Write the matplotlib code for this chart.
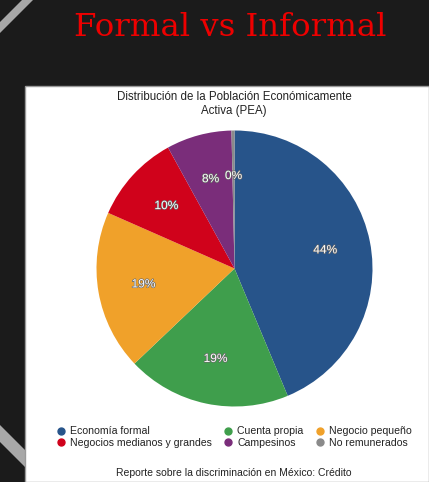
import matplotlib
matplotlib.use("Agg")
import matplotlib.pyplot as plt
import matplotlib.patheffects as pe
from matplotlib.patches import Polygon, Rectangle
from matplotlib.lines import Line2D

# data
labels = ["Economía formal", "Cuenta propia", "Negocio pequeño",
          "Negocios medianos y grandes", "Campesinos", "No remunerados"]
values = [43.7, 19.2, 18.7, 10.4, 7.65, 0.35]
colors = ["#27548a", "#3f9e4c", "#f0a12a", "#d0021b", "#7a2d7a", "#8a8a8a"]

W, H = 429, 482
fig = plt.figure(figsize=(W / 100, H / 100), dpi=100)
fig.patch.set_facecolor("#1b1b1b")

def fx(x):
    return x / W

def fy(y):
    return 1 - y / H

# grey diagonal stripes of the slide background
fig.patches.append(Polygon([(fx(22), fy(0)), (fx(33), fy(0)), (fx(0), fy(33)), (fx(0), fy(22))],
                           closed=True, transform=fig.transFigure, facecolor="#a8a8a8", zorder=0))
fig.patches.append(Polygon([(fx(0), fy(425)), (fx(0), fy(442)), (fx(28), fy(470)), (fx(28), fy(453))],
                           closed=True, transform=fig.transFigure, facecolor="#a8a8a8", zorder=0))

# white chart panel
fig.patches.append(Rectangle((fx(25), 0), 1 - fx(25), fy(86), transform=fig.transFigure,
                             facecolor="white", edgecolor="#9a9a9a", linewidth=1.0, zorder=1))

fig.text(fx(230), fy(36), "Formal vs Informal", color="#ee0000", family="DejaVu Serif",
         fontsize=23.3, ha="center", va="baseline")

fig.text(fx(234), fy(104), "Distribución de la Población Económicamente\nActiva (PEA)",
         family="Liberation Sans", fontsize=8.3, ha="center", va="center",
         color="#222222", linespacing=1.2, zorder=3)

# pie
cx, cy, r = 234.5, 268.5, 138
ax = fig.add_axes([fx(cx - r), fy(cy + r), 2 * r / W, 2 * r / H])
ax.set_zorder(2)
wedges, texts, autotexts = ax.pie(values, colors=colors, startangle=90, counterclock=False,
                                  autopct="%1.0f%%", pctdistance=0.67,
                                  wedgeprops=dict(linewidth=0))
for t in autotexts:
    t.set_color("white")
    t.set_fontsize(8.6)
    t.set_family("Liberation Sans")
    t.set_path_effects([pe.withStroke(linewidth=0.9, foreground="#666666")])
ax.set_xlim(-1, 1)
ax.set_ylim(-1, 1)
ax.set_aspect("equal")

# legend, filled row by row
handles = [Line2D([], [], marker="o", linestyle="", markersize=5,
                  markerfacecolor=c, markeredgecolor=c) for c in colors]
order = [0, 3, 1, 4, 2, 5]
leg = fig.legend([handles[i] for i in order], [labels[i] for i in order], ncol=3,
                 loc="center", bbox_to_anchor=(fx(234), fy(437)), frameon=False,
                 prop=dict(family="Liberation Sans", size=7.6), handlelength=0.8,
                 handletextpad=0.45, columnspacing=1.15, labelspacing=0.15, labelcolor="#222222")
leg.set_zorder(3)

fig.text(fx(234), fy(473), "Reporte sobre la discriminación en México: Crédito",
         family="Liberation Sans", fontsize=7.5, ha="center", va="center", color="#222222",
         zorder=3)

fig.savefig("out.png", dpi=100, facecolor=fig.get_facecolor())
